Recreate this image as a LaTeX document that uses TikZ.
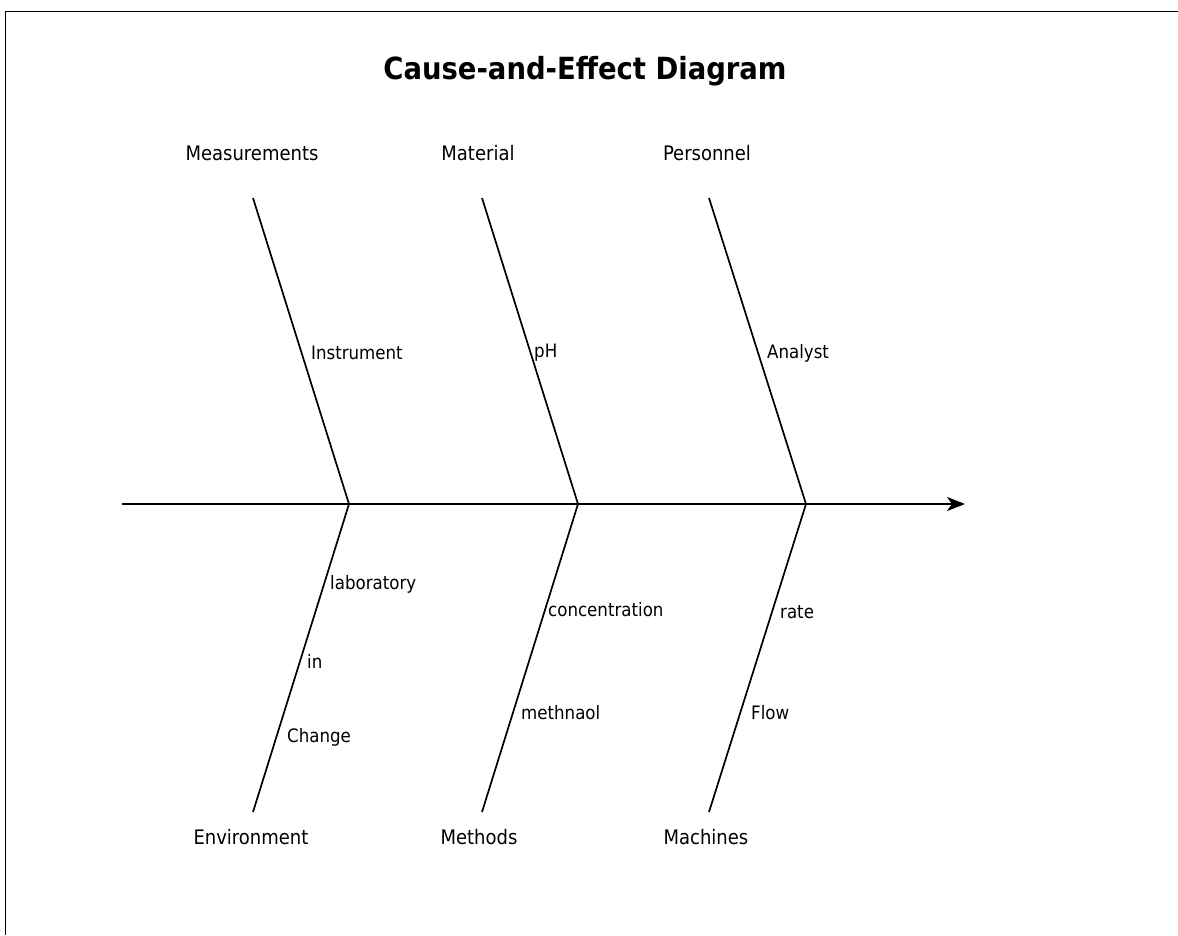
\documentclass[tikz,border=0pt]{standalone}
\usepackage{fontspec}
\setmainfont{DejaVu Sans Condensed}
\usetikzlibrary{arrows.meta}
\begin{document}
\begin{tikzpicture}[x=1pt,y=-1pt,
  bone/.style={line width=1.7pt,black},
  spine/.style={line width=1.8pt,black,-{Stealth[length=18pt,width=14pt,inset=5pt]}},
  cat/.style={font=\fontsize{20}{24}\selectfont,inner sep=0pt},
  cause/.style={font=\fontsize{18.5}{22}\selectfont,inner sep=0pt,anchor=west},
  ttl/.style={font=\bfseries\fontsize{30.5}{36}\selectfont,inner sep=0pt}]
\useasboundingbox (0,0) rectangle (1178,935);
\draw[line width=1.5pt] (5.5,935) -- (5.5,11.5) -- (1178,11.5);
\node[ttl] (title) at (585,71) {Cause-and-Effect Diagram};
% spine
\coordinate (s0) at (122,504);
\coordinate (s1) at (965,504);
\coordinate (j1) at (349,504);
\coordinate (j2) at (578,504);
\coordinate (j3) at (806,504);
\draw[spine] (s0) -- (s1);
% bone ends
\coordinate (t1) at (253,198);
\coordinate (t2) at (482,198);
\coordinate (t3) at (709,198);
\coordinate (b1) at (253,812);
\coordinate (b2) at (482,812);
\coordinate (b3) at (709,812);
\draw[bone] (t1) -- (j1) -- (b1);
\draw[bone] (t2) -- (j2) -- (b2);
\draw[bone] (t3) -- (j3) -- (b3);
% categories
\node[cat] (meas) at (252,153) {Measurements};
\node[cat] (mat) at (478,153) {Material};
\node[cat] (pers) at (707,153) {Personnel};
\node[cat] (env) at (251,837) {Environment};
\node[cat] (meth) at (479,837) {Methods};
\node[cat] (mach) at (706,837) {Machines};
% causes
\node[cause] (c1) at (311,353) {Instrument};
\node[cause] (c2) at (534,353) {pH};
\node[cause] (c3) at (767,353) {Analyst};
\node[cause] (c4) at (330,584) {laboratory};
\node[cause] (c5) at (307,661) {in};
\node[cause] (c6) at (287,737) {Change};
\node[cause] (c7) at (548,610) {concentration};
\node[cause] (c8) at (521,713) {methnaol};
\node[cause] (c9) at (780,612) {rate};
\node[cause] (c10) at (751,713) {Flow};
\end{tikzpicture}
\end{document}
